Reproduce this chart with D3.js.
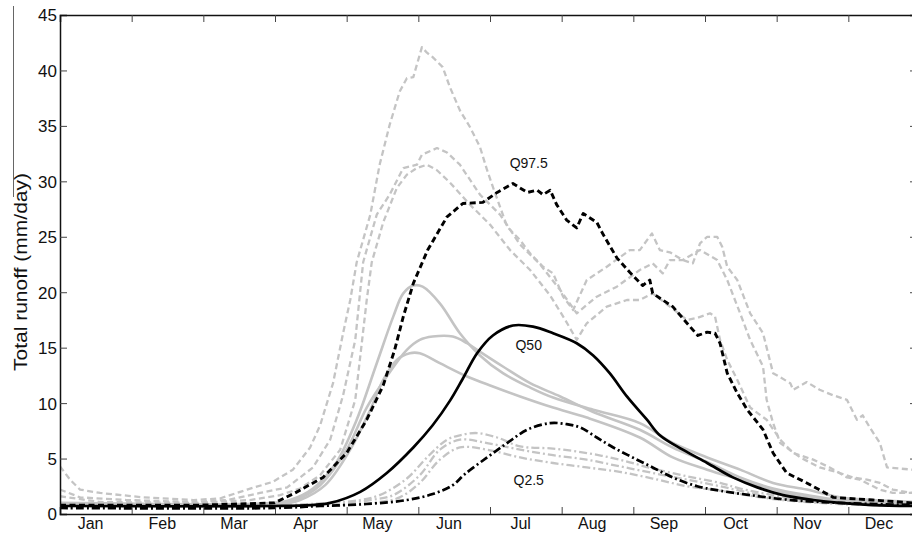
<!DOCTYPE html>
<html><head><meta charset="utf-8">
<script src="https://cdn.jsdelivr.net/npm/d3@7"></script>
<style>html,body{margin:0;padding:0;background:#fff;}svg{display:block;font-family:"Liberation Sans",Arial,sans-serif;}</style>
</head><body><svg id="c" width="912" height="536"></svg>
<script>
const months = ["Jan","Feb","Mar","Apr","May","Jun","Jul","Aug","Sep","Oct","Nov","Dec"];
const yTicks = [0,5,10,15,20,25,30,35,40,45];

// [month position (0-12), runoff mm/day]
const q975 = [[0,0.8],[1.95,0.8],[2.99,1.0],[3.28,1.9],[3.67,3.3],[4.0,5.5],[4.28,8.5],[4.51,11.6],[4.67,14.8],[4.79,17.8],[4.93,20.8],[5.13,23.8],[5.40,26.8],[5.62,28.0],[5.90,28.1],[6.10,29.0],[6.32,29.8],[6.52,29.0],[6.66,29.2],[6.74,28.8],[6.84,29.2],[6.93,27.9],[7.07,26.5],[7.21,25.8],[7.30,27.1],[7.49,26.3],[7.58,25.2],[7.77,23.1],[7.95,21.8],[8.13,20.6],[8.23,21.1],[8.27,19.9],[8.55,18.7],[8.79,16.9],[8.90,16.1],[9.03,16.4],[9.14,16.3],[9.21,15.4],[9.31,12.7],[9.45,10.9],[9.59,9.4],[9.81,7.6],[9.95,5.5],[10.14,3.7],[10.42,2.8],[10.79,1.5],[11.34,1.26],[11.89,1.0],[12,1.0]];
const q50 = [[0,0.72],[2.99,0.72],[3.49,0.8],[3.77,1.0],[4.19,2.0],[4.56,3.7],[4.93,6.0],[5.20,8.0],[5.44,10.2],[5.62,12.2],[5.82,14.5],[6.04,16.1],[6.32,17.0],[6.60,16.9],[6.88,16.3],[7.21,15.4],[7.44,14.3],[7.67,12.7],[7.91,10.6],[8.19,8.5],[8.37,7.1],[8.69,5.8],[9.03,4.6],[9.39,3.3],[9.73,2.4],[10.09,1.7],[10.51,1.26],[10.88,1.0],[11.34,0.8],[12,0.72]];
const q025 = [[0,0.54],[2.99,0.54],[3.63,0.72],[4.28,0.9],[4.84,1.26],[5.20,1.8],[5.48,2.6],[5.65,3.6],[5.96,5.1],[6.24,6.4],[6.52,7.6],[6.84,8.2],[7.07,8.1],[7.26,7.8],[7.49,6.9],[7.72,6.0],[7.99,5.1],[8.27,4.2],[8.55,3.3],[8.89,2.5],[9.21,2.1],[9.63,1.7],[10.19,1.26],[10.88,1.0],[12,0.8]];

const simHigh1 = [[0,4.3],[0.14,3.1],[0.28,2.2],[0.56,1.9],[1.16,1.5],[1.86,1.26],[2.23,1.4],[2.61,2.2],[2.97,2.9],[3.25,4.0],[3.49,6.0],[3.63,8.0],[3.81,11.8],[3.95,16.3],[4.05,19.3],[4.14,22.7],[4.33,27.0],[4.46,31.5],[4.60,35.1],[4.74,38.1],[4.84,39.3],[4.93,39.4],[5.05,42.1],[5.12,41.6],[5.20,41.2],[5.34,40.3],[5.44,38.5],[5.58,36.4],[5.72,34.9],[5.86,33.1],[5.96,31.0],[6.04,29.5],[6.14,27.7],[6.24,25.9],[6.42,24.7],[6.56,23.5],[6.74,22.3],[6.88,21.7],[7.02,19.6],[7.16,18.4],[7.35,21.1],[7.63,22.3],[7.95,23.8],[8.09,23.8],[8.26,25.3],[8.37,23.8],[8.51,23.6],[8.69,22.9],[8.83,22.6],[8.93,24.4],[9.03,25.0],[9.17,25.0],[9.24,24.1],[9.31,22.3],[9.45,21.1],[9.63,18.1],[9.81,16.3],[9.95,12.7],[10.19,11.8],[10.23,11.2],[10.42,11.9],[10.60,11.2],[10.79,10.7],[10.98,10.3],[11.12,8.5],[11.20,8.9],[11.30,7.8],[11.44,6.4],[11.54,4.2],[11.89,4.0],[12,4.0]];
const simHigh2 = [[0,2.2],[0.28,1.5],[0.93,1.26],[1.86,1.08],[2.33,1.26],[2.79,1.9],[3.17,2.4],[3.53,4.2],[3.77,6.7],[3.95,10.7],[4.12,15.7],[4.23,22.7],[4.42,27.0],[4.60,28.8],[4.79,31.2],[4.98,31.5],[5.05,32.4],[5.26,33.0],[5.40,32.6],[5.58,31.5],[5.86,28.8],[6.14,27.0],[6.42,24.3],[6.70,22.5],[6.98,20.2],[7.21,18.1],[7.49,19.6],[7.77,20.5],[8.09,22.0],[8.27,22.6],[8.41,21.7],[8.51,22.9],[8.69,22.9],[8.93,23.8],[9.17,22.9],[9.31,21.1],[9.49,18.1],[9.63,15.7],[9.81,13.3],[9.86,10.3],[9.95,8.2],[10.05,6.4],[10.33,5.1],[10.60,4.2],[10.88,3.7],[11.06,3.3],[11.26,3.1],[11.44,2.8],[11.62,2.2],[11.89,1.9],[12,1.9]];
const simHigh3 = [[0,1.6],[0.56,1.08],[1.95,1.0],[2.65,1.26],[3.07,1.7],[3.35,2.3],[3.63,3.5],[3.91,5.8],[4.12,10.3],[4.28,19.3],[4.35,22.7],[4.51,26.3],[4.70,29.4],[4.84,30.6],[4.98,31.2],[5.12,31.5],[5.26,31.0],[5.44,29.9],[5.72,27.9],[6.00,26.1],[6.28,23.8],[6.56,22.0],[6.84,19.7],[7.05,17.5],[7.21,15.7],[7.35,17.2],[7.63,18.7],[7.91,19.3],[8.09,19.3],[8.27,19.9],[8.51,18.7],[8.75,17.5],[8.90,17.7],[9.07,18.1],[9.14,17.8],[9.21,15.7],[9.31,13.9],[9.45,12.1],[9.63,9.6],[9.86,8.5],[10.05,6.7],[10.23,5.5],[10.51,4.9],[10.74,4.2],[10.98,3.3],[11.16,3.1],[11.44,2.2],[11.62,1.9],[12,1.9]];

const simMid1 = [[0,1.0],[2.99,1.0],[3.21,1.26],[3.53,2.3],[3.86,4.7],[4.14,8.5],[4.42,13.6],[4.65,17.8],[4.79,19.9],[4.93,20.6],[5.06,20.5],[5.30,19.0],[5.58,16.3],[5.86,14.3],[6.18,12.7],[6.56,11.4],[6.88,10.5],[7.44,9.4],[8.09,8.2],[8.55,6.4],[9.03,5.1],[9.49,4.0],[9.95,2.8],[10.42,2.2],[10.88,1.5],[11.34,1.26],[12,1.08]];
const simMid2 = [[0,0.9],[2.99,0.9],[3.28,1.26],[3.63,2.6],[4.00,5.8],[4.28,9.6],[4.56,12.4],[4.84,14.8],[5.02,15.7],[5.20,16.0],[5.48,16.0],[5.68,15.4],[5.82,14.8],[6.18,13.3],[6.56,11.8],[6.98,10.6],[7.44,9.2],[8.09,7.6],[8.55,6.0],[9.03,4.7],[9.49,3.3],[9.95,2.3],[10.42,1.7],[10.88,1.26],[12,1.0]];
const simMid3 = [[0,0.8],[2.99,0.8],[3.35,1.26],[3.70,2.6],[4.05,5.8],[4.33,9.4],[4.51,12.1],[4.70,13.9],[4.88,14.5],[5.02,14.5],[5.30,13.6],[5.68,12.4],[6.04,11.5],[6.42,10.6],[6.88,9.6],[7.35,8.7],[8.09,6.9],[8.55,5.1],[9.03,4.0],[9.49,3.1],[9.95,2.2],[10.42,1.5],[12,1.0]];

const simLow1 = [[0,0.8],[2.99,0.8],[3.77,1.0],[4.19,1.26],[4.46,1.7],[4.84,3.2],[5.12,5.1],[5.40,6.7],[5.58,7.1],[5.82,7.3],[6.10,6.9],[6.42,6.1],[6.88,5.9],[7.35,5.5],[7.81,4.9],[8.27,4.1],[8.75,3.4],[9.21,2.8],[9.49,2.3],[9.95,1.7],[10.42,1.26],[10.88,1.08],[12,0.9]];
const simLow2 = [[0,0.72],[2.99,0.72],[3.91,0.9],[4.33,1.26],[4.65,1.7],[5.02,3.5],[5.30,5.8],[5.58,6.7],[5.96,6.4],[6.42,5.8],[6.88,5.3],[7.35,4.9],[7.81,4.3],[8.27,3.7],[8.75,3.1],[9.21,2.5],[9.95,1.5],[10.88,1.0],[12,0.8]];
const simLow3 = [[0,0.72],[2.99,0.72],[4.05,0.8],[4.46,1.08],[4.74,1.5],[5.02,2.8],[5.30,4.9],[5.58,6.0],[5.96,5.8],[6.42,5.1],[6.88,4.6],[7.35,4.2],[7.81,3.8],[8.27,3.2],[8.75,2.5],[9.21,2.1],[9.95,1.35],[10.88,0.9],[12,0.72]];

const labels = [["Q97.5",6.54,31.2],["Q50",6.54,14.8],["Q2.5",6.54,2.6]];

const svg = d3.select("#c");
const x = d3.scaleLinear().domain([0,12]).range([60,920]);
const y = d3.scaleLinear().domain([0,45]).range([514,15]);

svg.append("defs").append("clipPath").attr("id","clip")
  .append("rect").attr("x",60).attr("y",15).attr("width",860).attr("height",499);

// scan artifact line at left
svg.append("line").attr("x1",13.5).attr("x2",13.5).attr("y1",6).attr("y2",197).attr("stroke","#666").attr("stroke-width",1);

const GRAY = "#c4c4c4";
const lineJag = d3.line().x(d=>x(d[0])).y(d=>y(d[1]));
const lineSmooth = d3.line().x(d=>x(d[0])).y(d=>y(d[1])).curve(d3.curveCatmullRom.alpha(0.5));

const plot = svg.append("g").attr("clip-path","url(#clip)");
function draw(data, gen, color, width, dash){
  plot.append("path").datum(data).attr("d",gen).attr("fill","none")
    .attr("stroke",color).attr("stroke-width",width)
    .attr("stroke-dasharray",dash||null).attr("stroke-linejoin","round");
}
[simLow1,simLow2,simLow3].forEach(s=>draw(s,lineSmooth,GRAY,2.3,"8,3,2,3"));
[simMid1,simMid2,simMid3].forEach(s=>draw(s,lineSmooth,GRAY,2.6));
[simHigh1,simHigh2,simHigh3].forEach(s=>draw(s,lineJag,GRAY,2.3,"6,3.5"));
draw(q025,lineSmooth,"#000",2.7,"8,3,2,3");
draw(q50,lineSmooth,"#000",2.7);
draw(q975,lineJag,"#000",2.9,"6,3.5");

// labels
svg.selectAll("text.q").data(labels).enter().append("text").attr("class","q")
  .attr("x",d=>x(d[1])).attr("y",d=>y(d[2])).attr("text-anchor","middle")
  .attr("font-size",14).attr("fill","#111").text(d=>d[0]);

// axes
const axes = svg.append("g");
const gL = axes.append("g").attr("transform","translate(60,0)")
  .call(d3.axisLeft(y).tickValues(yTicks).tickSize(-7).tickPadding(3).tickFormat(d3.format("d")));
const gR = axes.append("g").attr("transform","translate(917,0)")
  .call(d3.axisRight(y).tickValues(yTicks).tickSize(-7).tickFormat(""));
const gB = axes.append("g").attr("transform","translate(0,514)")
  .call(d3.axisBottom(x).tickValues(d3.range(1,12)).tickSize(-7).tickFormat(""));
const gT = axes.append("g").attr("transform","translate(0,15)")
  .call(d3.axisTop(x).tickValues(d3.range(1,12)).tickSize(-7).tickFormat(""));
const gM = axes.append("g").attr("transform","translate(0,514)")
  .call(d3.axisBottom(x).tickValues(d3.range(0.42,12,1)).tickSize(0).tickPadding(4).tickFormat((d,i)=>months[i]));
gM.select(".domain").remove();
[gL,gR,gB,gT].forEach(g=>{
  g.select(".domain").attr("stroke","#111").attr("stroke-width",1.5);
  g.selectAll(".tick line").attr("stroke","#444").attr("stroke-width",1);
});
gL.selectAll(".tick text").attr("font-size",17).attr("fill","#111").attr("dy","0.35em");
gM.selectAll(".tick text").attr("font-size",16).attr("fill","#111");

svg.append("text").attr("transform","translate(27,272) rotate(-90)")
  .attr("text-anchor","middle").attr("font-size",19).attr("fill","#111")
  .attr("textLength",198).attr("lengthAdjust","spacingAndGlyphs")
  .text("Total runoff (mm/day)");
</script></body></html>
